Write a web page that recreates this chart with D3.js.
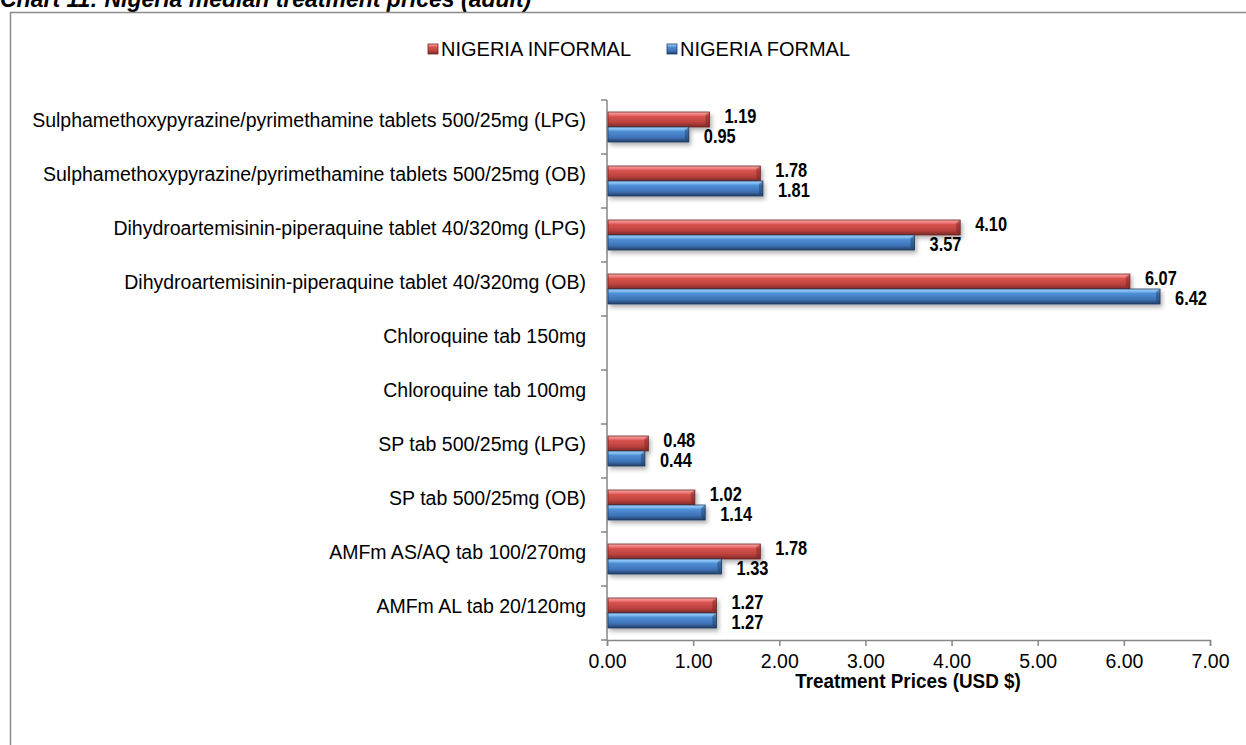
<!DOCTYPE html>
<html>
<head>
    <meta charset="utf-8">
    <script src="https://d3js.org/d3.v7.min.js"></script>
    <style>
        body { margin: 0; background: #fff; }
        svg { display: block; font-family: "Liberation Sans", Arial, sans-serif; }
    </style>
</head>
<body>
    <svg id="chart" width="1246" height="745"></svg>

    <script>
        // categories, top to bottom as shown
        const categories = [
            "Sulphamethoxypyrazine/pyrimethamine tablets 500/25mg (LPG)",
            "Sulphamethoxypyrazine/pyrimethamine tablets 500/25mg (OB)",
            "Dihydroartemisinin-piperaquine tablet 40/320mg (LPG)",
            "Dihydroartemisinin-piperaquine tablet 40/320mg (OB)",
            "Chloroquine tab 150mg",
            "Chloroquine tab 100mg",
            "SP tab 500/25mg (LPG)",
            "SP tab 500/25mg (OB)",
            "AMFm AS/AQ tab 100/270mg",
            "AMFm AL tab 20/120mg"
        ];
        const informal = [1.19, 1.78, 4.10, 6.07, null, null, 0.48, 1.02, 1.78, 1.27];
        const formal   = [0.95, 1.81, 3.57, 6.42, null, null, 0.44, 1.14, 1.33, 1.27];
        const seriesNames = ["NIGERIA INFORMAL", "NIGERIA FORMAL"];
        const xTicks = [0, 1, 2, 3, 4, 5, 6, 7];

        const svg = d3.select("#chart");

        // gradients for the bevelled bars
        const defs = svg.append("defs");
        function grad(id, stops) {
            const g = defs.append("linearGradient").attr("id", id)
                .attr("x1", 0).attr("y1", 0).attr("x2", 0).attr("y2", 1);
            stops.forEach(s => g.append("stop").attr("offset", s[0]).attr("stop-color", s[1]));
        }
        grad("gRed", [[0, "#f6a9a7"], [0.18, "#ee7a77"], [0.3, "#d9534f"], [0.7, "#b9413d"], [0.85, "#9a3532"], [1, "#7a2a28"]]);
        grad("gBlue", [[0, "#a9d4f7"], [0.18, "#77b5ee"], [0.3, "#4f8fd6"], [0.7, "#3e72b6"], [0.85, "#30598f"], [1, "#223f66"]]);
        const shadow = defs.append("filter").attr("id", "shadow")
            .attr("x", "-5%").attr("y", "-30%").attr("width", "110%").attr("height", "180%");
        shadow.append("feDropShadow").attr("dx", 2).attr("dy", 3).attr("stdDeviation", 2)
            .attr("flood-color", "#000").attr("flood-opacity", 0.3);

        const fills = ["url(#gRed)", "url(#gBlue)"];
        const edges = ["#6e2422", "#1f3a5e"];

        // narrow bold text, squeezed horizontally
        function narrow(sel, k) {
            return sel.attr("transform", function () {
                const t = d3.select(this);
                return `translate(${+t.attr("x")},${+t.attr("y")}) scale(${k},1)`;
            }).attr("x", 0).attr("y", 0);
        }

        // title (cut off at the top of the page)
        svg.append("text")
            .attr("x", 0).attr("y", 7)
            .style("font-size", "23px").style("font-weight", "bold").style("font-style", "italic")
            .text("Chart 11: Nigeria median treatment prices (adult)");

        // frame
        svg.append("rect")
            .attr("x", 10.5).attr("y", 12.5).attr("width", 1300).attr("height", 800)
            .attr("fill", "none").attr("stroke", "#8c8c8c").attr("stroke-width", 1.5);

        const x = d3.scaleLinear().domain([0, 7]).range([607, 1210]);
        const y = d3.scaleBand().domain(categories).range([100, 640]).padding(0);
        const inner = d3.scaleBand().domain(seriesNames).range([-15, 15]);

        // axes
        const xAxis = svg.append("g")
            .attr("transform", "translate(0,640)")
            .call(d3.axisBottom(x).tickValues(xTicks).tickFormat(d3.format(".2f")).tickSizeOuter(0).tickSize(6).tickPadding(8));
        xAxis.select(".domain").attr("stroke", "#868686").attr("stroke-width", 1.5);
        xAxis.selectAll(".tick line").attr("stroke", "#868686").attr("stroke-width", 1.5);
        xAxis.selectAll(".tick text")
            .style("font-size", "19.5px").attr("fill", "#000");

        const yAxis = svg.append("g")
            .attr("transform", "translate(607,0)");
        yAxis.append("line")
            .attr("x1", 0).attr("x2", 0).attr("y1", 100).attr("y2", 640)
            .attr("stroke", "#868686").attr("stroke-width", 1.5);
        const bounds = categories.map(c => y(c)).concat([y.range()[1]]);
        yAxis.selectAll("line.tick")
            .data(bounds)
            .join("line")
            .attr("class", "tick")
            .attr("x1", -6).attr("x2", 0)
            .attr("y1", d => d).attr("y2", d => d)
            .attr("stroke", "#868686").attr("stroke-width", 1.5);

        // category labels
        svg.append("g").selectAll("text")
            .data(categories)
            .join("text")
            .attr("x", 586)
            .attr("y", d => y(d) + y.bandwidth() / 2 - 7)
            .attr("dy", "0.35em")
            .attr("text-anchor", "end")
            .style("font-size", "19.5px")
            .text(d => d);

        // bars
        const rows = [];
        categories.forEach((c, i) => {
            [informal[i], formal[i]].forEach((v, s) => {
                if (v != null) rows.push({ cat: c, s: s, name: seriesNames[s], v: v });
            });
        });

        const bars = svg.append("g").attr("filter", "url(#shadow)");
        bars.selectAll("rect")
            .data(rows)
            .join("rect")
            .attr("x", x(0) + 1)
            .attr("y", d => y(d.cat) + y.bandwidth() / 2 + inner(d.name))
            .attr("width", d => x(d.v) - x(0) - 1)
            .attr("height", inner.bandwidth())
            .attr("fill", d => fills[d.s])
            .attr("stroke", d => edges[d.s])
            .attr("stroke-width", 0.8);

        // bevel at the bar end
        svg.append("g").selectAll("path")
            .data(rows)
            .join("path")
            .attr("d", d => {
                const x1 = x(d.v), y0 = y(d.cat) + y.bandwidth() / 2 + inner(d.name), h = inner.bandwidth();
                return `M${x1 - 4},${y0 + 3}L${x1},${y0}L${x1},${y0 + h}L${x1 - 4},${y0 + h - 3}Z`;
            })
            .attr("fill", d => edges[d.s]).attr("opacity", 0.45);

        // value labels
        svg.append("g").selectAll("text")
            .data(rows)
            .join("text")
            .attr("x", d => x(d.v) + 15)
            .attr("y", d => y(d.cat) + y.bandwidth() / 2 + inner(d.name) + inner.bandwidth() / 2 + (d.s === 0 ? -4 : 1) + 7)
            .style("font-size", "20px").style("font-weight", "bold")
            .text(d => d3.format(".2f")(d.v))
            .call(narrow, 0.82);

        // x axis title
        svg.append("text")
            .attr("x", 908).attr("y", 688)
            .attr("text-anchor", "middle")
            .style("font-size", "21px").style("font-weight", "bold")
            .text("Treatment Prices (USD $)")
            .call(narrow, 0.9);

        // legend
        const legendX = [428, 667];
        const legend = svg.append("g").selectAll("g")
            .data(seriesNames)
            .join("g")
            .attr("transform", (d, i) => `translate(${legendX[i]},44)`);
        legend.append("rect")
            .attr("width", 10).attr("height", 10)
            .attr("fill", (d, i) => fills[i])
            .attr("stroke", (d, i) => edges[i]).attr("stroke-width", 0.8);
        legend.append("text")
            .attr("x", 13).attr("y", 5).attr("dy", "0.35em")
            .style("font-size", "20px")
            .text(d => d);
    </script>
</body>
</html>
